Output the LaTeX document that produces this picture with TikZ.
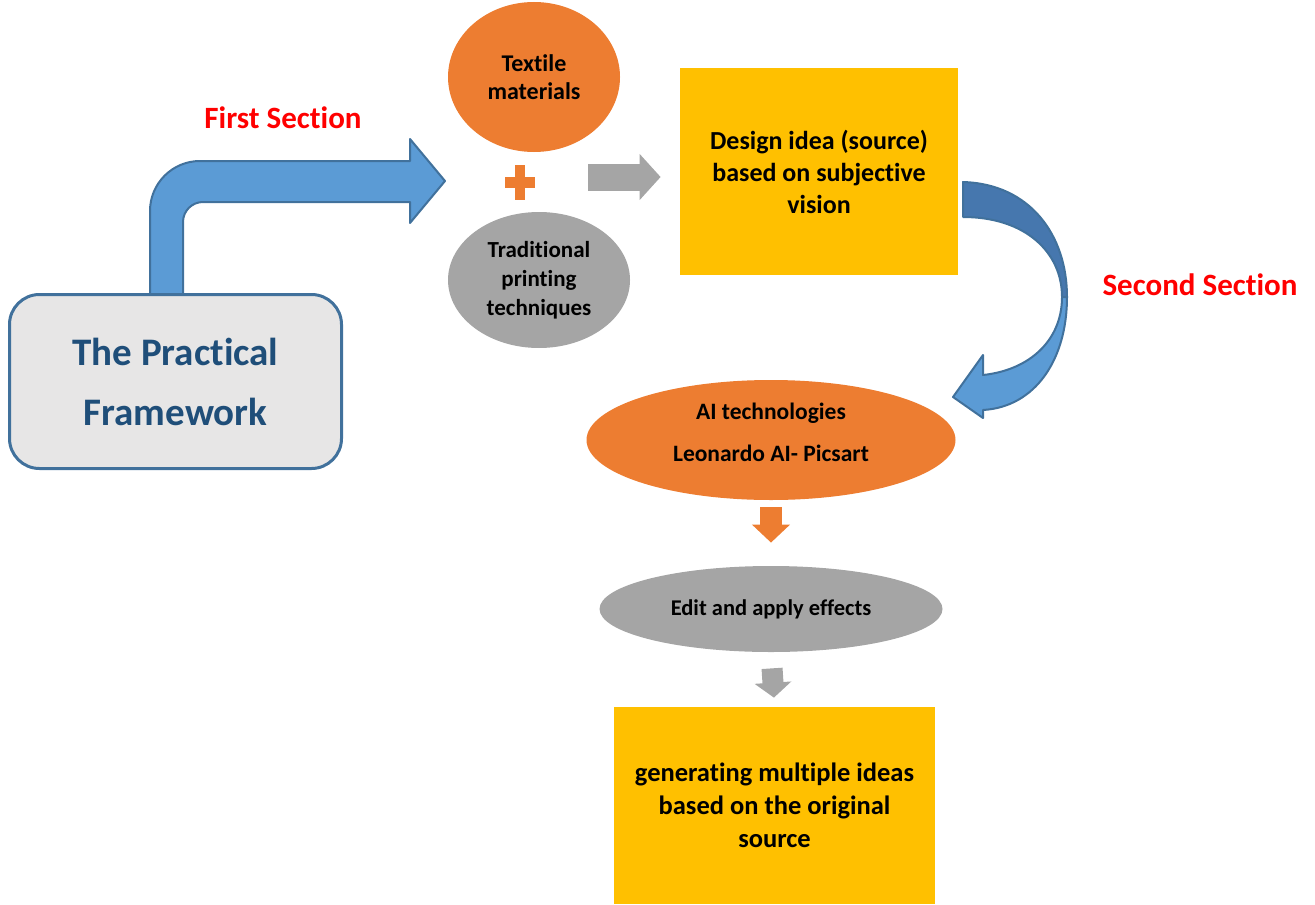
\documentclass[tikz,border=0pt]{standalone}
\usepackage{fontspec}
\setmainfont{Carlito}[Ligatures=NoCommon]
\usetikzlibrary{arrows.meta,shapes.geometric}

\definecolor{frameblue}{HTML}{41719C}
\definecolor{arrowblue}{HTML}{5B9BD5}
\definecolor{arrowdark}{HTML}{4677AE}
\definecolor{darkblue}{HTML}{1F4E79}
\definecolor{boxgray}{HTML}{E7E6E6}
\definecolor{orangeC}{HTML}{ED7D31}
\definecolor{grayC}{HTML}{A5A5A5}
\definecolor{yellowC}{HTML}{FFC000}

\begin{document}
\begin{tikzpicture}[x=0.5pt, y=-0.5pt,
  section/.style={text=red, font=\fontsize{15.5}{18}\selectfont\bfseries},
  blob/.style={ellipse, inner sep=0pt, align=center},
  card/.style={rectangle, fill=yellowC, inner sep=0pt, align=center},
  blockarrow/.style={fill=arrowblue, draw=frameblue, line width=1pt, line join=round},
  fatarrow/.style n args={4}{draw=#1, line width=#2, -{Triangle[length=#3, width=#4]}}]

\useasboundingbox (0,0) rectangle (1315,904);

% boxes and ellipses
\node[rectangle, rounded corners=15pt, draw=frameblue, line width=1.5pt, fill=boxgray,
  minimum width=166pt, minimum height=87pt, text=darkblue, align=center,
  font=\fontsize{19.5}{30}\selectfont\bfseries] (frame) at (175.5,381.5) {The Practical\\Framework};

\node[blob, fill=orangeC, minimum width=86pt, minimum height=75pt,
  font=\fontsize{12}{14}\selectfont\bfseries] (textile) at (534,77) {Textile\\materials};
\node[blob, fill=grayC, minimum width=91pt, minimum height=68pt,
  font=\fontsize{11.5}{14.5}\selectfont\bfseries] (printing) at (539,280) {Traditional\\printing\\techniques};
\node[inner sep=0pt, minimum width=15pt, minimum height=17.5pt] (plus) at (520,182.5) {};

\node[card, minimum width=139pt, minimum height=103.5pt,
  font=\fontsize{13}{16}\selectfont\bfseries] (design) at (819,171.5) {Design idea (source)\\based on subjective\\vision};

\node[blob, fill=orangeC, minimum width=184.5pt, minimum height=60pt, text depth=8pt,
  font=\fontsize{11.75}{21}\selectfont\bfseries] (ai) at (771,440) {AI technologies\\Leonardo AI- Picsart};
\node[blob, fill=grayC, minimum width=171.5pt, minimum height=43pt,
  font=\fontsize{11.25}{14}\selectfont\bfseries] (edit) at (771,609) {Edit and apply effects};

\node[card, minimum width=160.5pt, minimum height=98.5pt,
  font=\fontsize{13.25}{16.5}\selectfont\bfseries] (ideas) at (774.5,805.5) {generating multiple ideas\\based on the original\\source};

\node[section] (first) at (283,118) {First Section};
\node[section] (second) at (1200,285) {Second Section};

% plus sign
\fill[orangeC] ([xshift=-2.5pt]plus.north) rectangle ([xshift=2.5pt]plus.south);
\fill[orangeC] ([yshift=2.75pt]plus.west) rectangle ([yshift=-2.75pt]plus.east);

% bent arrow
\filldraw[blockarrow] (150,294) -- (150,211) arc[start angle=180, end angle=270, radius=50]
  -- (410,161) -- (410,139) -- (445,181) -- (410,223) -- (410,202) -- (203,202)
  arc[start angle=270, end angle=180, radius=20] -- (183,294) -- cycle;

% curved arrow
\filldraw[blockarrow, fill=arrowdark] (963,182) .. controls (1030,184) and (1067,235) .. (1067,297)
  -- (1062,297) .. controls (1062,252) and (1025,217) .. (963,217) -- cycle;
\filldraw[blockarrow] (1067,297) .. controls (1067,360) and (1035,407) .. (983,410)
  -- (983,418) -- (953,397) -- (983,355) -- (983,375)
  .. controls (1030,370) and (1062,340) .. (1062,297) -- cycle;

% straight arrows
\coordinate (gstart) at (588,177);
\draw[fatarrow={grayC}{13.5pt}{10.5pt}{22.5pt}, shorten >=9.5pt] (gstart) -- (gstart -| design.west);
\draw[fatarrow={orangeC}{11pt}{9pt}{18.5pt}, shorten <=3.5pt, shorten >=11.5pt] (ai.south) -- (edit.north);
\draw[fatarrow={grayC}{10.5pt}{7.5pt}{18pt}, shorten <=8pt, shorten >=4.5pt] (edit.south) -- (ideas.north);

\end{tikzpicture}
\end{document}
